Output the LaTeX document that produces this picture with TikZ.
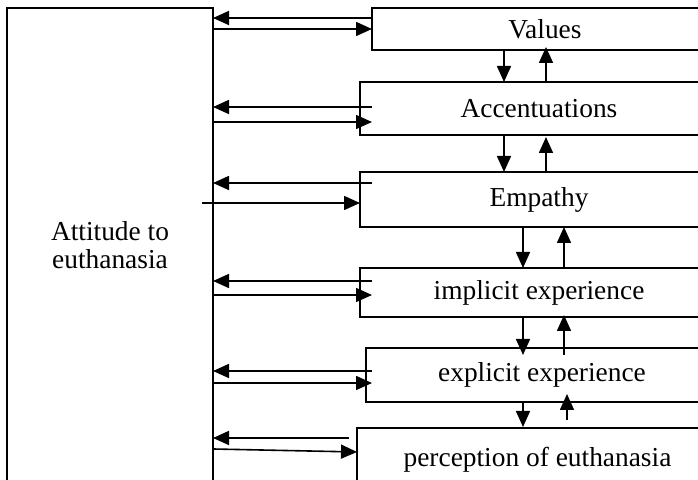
\documentclass[tikz,border=0pt]{standalone}
\usepackage{fontspec}
\setmainfont{Liberation Serif}
\usetikzlibrary{arrows.meta}
\tikzset{
  box/.style={draw, rectangle, line width=0.8pt, inner sep=0pt, outer sep=0pt,
    font=\fontsize{13.7}{14}\selectfont},
  arr/.style={-{Triangle[length=8pt,width=7pt]}, line width=0.8pt}
}
\begin{document}
\begin{tikzpicture}[x=0.5pt,y=-0.5pt]
  \useasboundingbox (0,0) rectangle (698,480);
  \clip (0,0) rectangle (698,480);
  % the attitude column (runs off the page at the bottom)
  \node[box, minimum width=103pt, minimum height=237pt, align=center] (att) at (110,245) {Attitude to\\euthanasia};

  %% the factors, open on the right
  \node[box, minimum width=173pt, minimum height=21pt] (val) at (545,29) {Values};
  \node[box, minimum width=179pt, minimum height=26.5pt] (acc) at (539,108.5) {Accentuations};
  \node[box, minimum width=179pt, minimum height=27.5pt] (emp) at (539,199.5) {Empathy};
  \node[box, minimum width=179pt, minimum height=24.5pt] (impl) at (539,292.5) {implicit experience};
  \node[box, minimum width=176pt, minimum height=27pt] (expl) at (542,375) {explicit experience};
  \node[box, minimum width=180.5pt, minimum height=32pt] (perc) at (537.5,460) {perception of euthanasia};

  %% arrows between column and factors
  \foreach \b/\ya/\yb/\dx in {val/18/29/0, acc/107/122/6, impl/281/295/6, expl/371/383/3}
  {
    \draw[arr] ([xshift=\dx pt]\b.west |- 0,\ya) -- (att.east |- 0,\ya);
    \draw[arr] (att.east |- 0,\yb) -- ([xshift=\dx pt]\b.west |- 0,\yb);
  }
  \draw[arr] ([xshift=6pt]emp.west |- 0,183) -- (att.east |- 0,183);
  \draw[arr] ([xshift=-5.5pt]att.east |- 0,203) -- (emp.west |- 0,203);
  \draw[arr] ([xshift=-4pt]perc.west |- 0,438) -- (att.east |- 0,438);
  \draw[arr] (att.east |- 0,449) -- (perc.west |- 0,452);

  %% arrows down and up between the factors
  \draw[arr] (val.south -| 504,0) -- (acc.north -| 504,0);
  \draw[arr] (acc.north -| 546,0) -- ([yshift=1.5pt]val.south -| 546,0);
  \draw[arr] (acc.south -| 504,0) -- (emp.north -| 504,0);
  \draw[arr] (emp.north -| 546,0) -- ([yshift=-1pt]acc.south -| 546,0);
  \draw[arr] (emp.south -| 523,0) -- (impl.north -| 523,0);
  \draw[arr] (impl.north -| 564,0) -- (emp.south -| 564,0);
  \draw[arr] (impl.south -| 523,0) -- ([yshift=-3.5pt]expl.north -| 523,0);
  \draw[arr] ([yshift=-3.5pt]expl.north -| 564,0) -- ([yshift=1pt]impl.south -| 564,0);
  \draw[arr] (expl.south -| 523,0) -- ([yshift=0.5pt]perc.north -| 523,0);
  \draw[arr] ([yshift=4pt]perc.north -| 567,0) -- ([yshift=4pt]expl.south -| 567,0);
\end{tikzpicture}
\end{document}
